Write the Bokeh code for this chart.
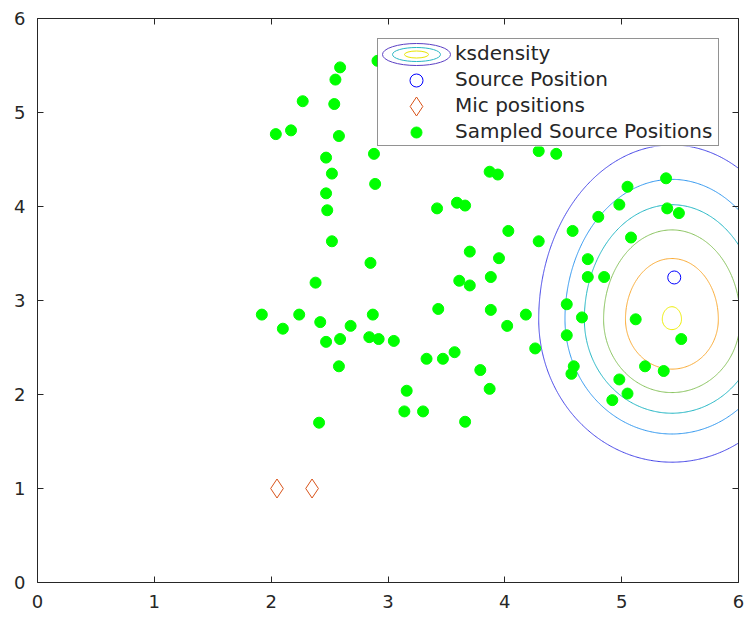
import numpy as np
from bokeh.plotting import figure
from bokeh.models import Range1d, FixedTicker, LinearAxis, Legend, LegendItem, BoxAnnotation
from bokeh.embed import file_html
from bokeh.resources import INLINE

# ---------------- data ----------------
sample_x = [2.59, 2.55, 2.91, 2.27, 2.54, 2.04, 2.17, 2.58, 2.47, 2.88,
            2.52, 2.89, 2.47, 2.48, 3.42, 2.52, 2.85, 2.38, 1.92, 2.24,
            2.87, 2.10, 2.42, 2.68, 2.47, 2.59, 2.84, 2.92, 3.05, 3.43,
            2.58, 3.33, 3.47, 3.16, 3.14, 3.30, 2.41, 4.29, 4.44, 3.87,
            3.94, 5.38, 5.05, 3.59, 3.66, 4.98, 5.39, 5.49, 4.80, 4.03,
            4.58, 4.29, 5.08, 3.70, 3.95, 4.71, 3.61, 3.70, 3.88, 4.71,
            4.85, 3.88, 4.18, 4.02, 4.53, 4.66, 5.12, 5.51, 4.53, 4.26,
            3.57, 3.79, 3.87, 4.59, 4.57, 4.98, 5.20, 5.36, 5.05, 4.92,
            3.66]
sample_y = [5.48, 5.35, 5.55, 5.12, 5.09, 4.77, 4.81, 4.75, 4.52, 4.56,
            4.35, 4.24, 4.14, 3.96, 3.98, 3.63, 3.40, 3.19, 2.85, 2.85,
            2.85, 2.70, 2.77, 2.73, 2.56, 2.59, 2.61, 2.59, 2.57, 2.91,
            2.30, 2.38, 2.38, 2.04, 1.82, 1.82, 1.70, 4.59, 4.56, 4.37,
            4.34, 4.30, 4.21, 4.04, 4.01, 4.02, 3.98, 3.93, 3.89, 3.74,
            3.74, 3.63, 3.67, 3.52, 3.45, 3.44, 3.21, 3.16, 3.25, 3.25,
            3.25, 2.90, 2.85, 2.73, 2.96, 2.82, 2.80, 2.59, 2.63, 2.49,
            2.45, 2.26, 2.06, 2.30, 2.22, 2.16, 2.30, 2.25, 2.01, 1.94,
            1.71]
source_x = [5.45]
source_y = [3.245]
mic_x = [2.05, 2.35]
mic_y = [1.0, 1.0]

# ksdensity (estimated density shape)
kde_center_x = 5.43
kde_center_y = 2.80
kde_sigma_x = 0.75
kde_sigma_y_up = 1.22
kde_sigma_y_down = 1.0
contour_levels = [0.315, 0.475, 0.607, 0.738, 0.869, 0.994]
contour_colors = ["#4343e6", "#2f96ee", "#1eb4c2", "#86c15a", "#fbaa32", "#eeee00"]

ticks = [0, 1, 2, 3, 4, 5, 6]
labels = ["ksdensity", "Source Position", "Mic positions", "Sampled Source Positions"]

INK = "#262626"
FONT = "DejaVu Sans"

# marker styles
SRC_STYLE = dict(marker="circle", size=13, fill_color=None, line_color="#0000ff", line_width=1)
MIC_STYLE = dict(marker="diamond", size=19, fill_color=None, line_color="#d95319", line_width=1)
SMP_STYLE = dict(marker="circle", size=11, fill_color="#00ff00", line_color="#00ff00", line_width=1)

# ---------------- figure ----------------
W, H = 747, 621
BL, BR, BT, BB = 37, 9, 18, 39
X0, X1, Y0, Y1 = 0, 6, 0, 6
p = figure(width=W, height=H, x_range=Range1d(X0, X1), y_range=Range1d(Y0, Y1),
           output_backend="svg", toolbar_location=None,
           min_border_left=BL, min_border_right=BR, min_border_top=BT, min_border_bottom=BB)
p.xgrid.visible = False
p.ygrid.visible = False
p.outline_line_color = None
p.background_fill_color = "white"
p.border_fill_color = "white"


def style_axis(ax, show_labels=True):
    ax.ticker = FixedTicker(ticks=ticks)
    ax.axis_line_color = INK
    ax.axis_line_width = 1
    ax.major_tick_line_color = INK
    ax.major_tick_in = 6
    ax.major_tick_out = 0
    ax.minor_tick_line_color = None
    ax.major_label_text_font = FONT
    ax.major_label_text_color = INK
    if show_labels:
        ax.major_label_text_font_size = "18px"
        ax.major_label_standoff = 12
    else:
        ax.major_label_text_font_size = "0px"
        ax.major_label_standoff = 0
        ax.major_label_overrides = {t: "" for t in ticks}


style_axis(p.xaxis[0])
style_axis(p.yaxis[0])
top_ax = LinearAxis()
right_ax = LinearAxis()
style_axis(top_ax, False)
style_axis(right_ax, False)
p.add_layout(top_ax, "above")
p.add_layout(right_ax, "right")

# ---------------- ksdensity contours ----------------
gx = np.linspace(3.0, 7.5, 451)
gy = np.linspace(-0.5, 6.5, 701)
GX, GY = np.meshgrid(gx, gy)
dx = (GX - kde_center_x) / kde_sigma_x
sy = np.where(GY > kde_center_y, kde_sigma_y_up, kde_sigma_y_down)
dy = (GY - kde_center_y) / sy
Z = np.exp(-0.5 * (dx ** 2 + dy ** 2))
p.contour(x=gx, y=gy, z=Z, levels=contour_levels, line_color=contour_colors, line_width=1)

# ---------------- markers ----------------
r_src = p.scatter(source_x, source_y, **SRC_STYLE)
r_mic = p.scatter(mic_x, mic_y, **MIC_STYLE)
r_smp = p.scatter(sample_x, sample_y, **SMP_STYLE)
dummy = p.line(x=[], y=[], line_alpha=0)

# ---------------- legend ----------------
frame_w = W - BL - BR
frame_h = H - BT - BB
sx_per_px = (X1 - X0) / frame_w
sy_per_px = (Y1 - Y0) / frame_h

leg_left, leg_top = 340, 542          # frame pixels (from frame bottom-left)
pad, gw, gh, sp, lw = 1, 76, 26, 0, 262
leg_h = 2 * pad + 4 * gh + 3 * sp
leg_w = 2 * pad + gw + lw

# white legend background drawn above the data marks
p.add_layout(BoxAnnotation(left=X0 + leg_left * sx_per_px, right=X0 + (leg_left + leg_w) * sx_per_px,
                           top=Y0 + leg_top * sy_per_px, bottom=Y0 + (leg_top - leg_h) * sy_per_px,
                           fill_color="white", fill_alpha=1.0, line_color=None, level="guide"))

legend = Legend(items=[LegendItem(label=lab, renderers=[dummy]) for lab in labels],
                location=(leg_left, leg_top - leg_h), margin=0, padding=pad, spacing=sp,
                glyph_width=gw, glyph_height=gh, label_standoff=0, label_width=lw,
                label_height=gh,
                border_line_color=INK, border_line_width=1,
                background_fill_alpha=0.0,
                label_text_font=FONT, label_text_font_size="20px", label_text_color=INK)
p.add_layout(legend)

# legend icons, drawn full size on top of the legend background
icon_x = X0 + (leg_left + pad + gw / 2) * sx_per_px
row_y = [Y0 + (leg_top - pad - gh * (i + 0.5) - sp * i) * sy_per_px for i in range(4)]
for w_px, h_px, c in [(68, 22, "#5b3fc4"), (48, 14, "#2ab7c4"), (24, 7, "#e8e400")]:
    r = p.ellipse(x=[icon_x], y=[row_y[0]], width=w_px, height=h_px,
                  width_units="screen", height_units="screen",
                  fill_color=None, line_color=c, line_width=1)
    r.level = "overlay"
for i, style in [(1, SRC_STYLE), (2, MIC_STYLE), (3, SMP_STYLE)]:
    r = p.scatter([icon_x], [row_y[i]], **style)
    r.level = "overlay"

open("out.html", "w").write(file_html(p, INLINE))
